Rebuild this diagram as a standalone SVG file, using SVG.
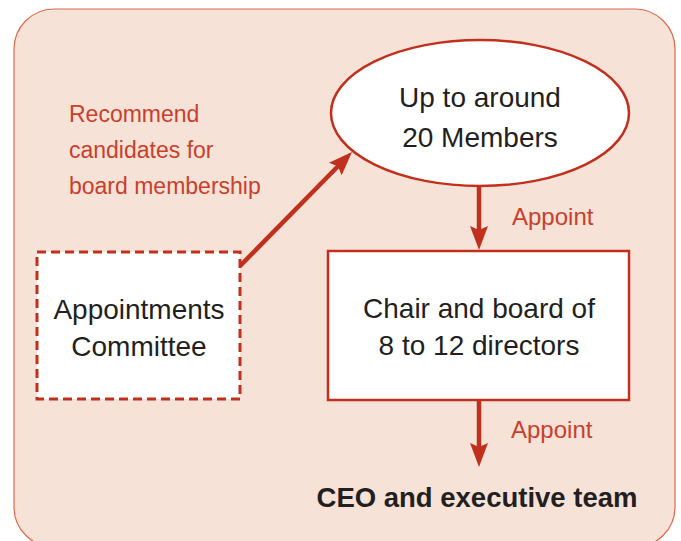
<svg xmlns="http://www.w3.org/2000/svg" width="681" height="541" viewBox="0 0 681 541">
<style>
.node{fill:#ffffff;stroke:#c1301d;stroke-width:2.5}
.dash{stroke-dasharray:9 5;stroke-width:3}
.lbl{font-family:"Liberation Sans",Arial,sans-serif;fill:#231f20;text-anchor:middle}
.red{font-family:"Liberation Sans",Arial,sans-serif;fill:#c8402c}
.conn{stroke:#c1301d;stroke-width:4.5;fill:none}
</style>
<defs>
<marker id="ah" viewBox="0 0 24 18" refX="12" refY="9" markerWidth="24" markerHeight="18" markerUnits="userSpaceOnUse" orient="auto">
<path d="M0,0 L24,9 L0,18 L4,9 z" fill="#c1301d"/>
</marker>
</defs>
<rect x="14" y="9" width="661" height="538" rx="40" ry="40" fill="#f7e2d8" stroke="#dc6a48" stroke-width="1.2"/>
<g id="connectors">
<line class="conn" x1="240" y1="266" x2="343.6" y2="160.5" marker-end="url(#ah)"/>
<line class="conn" x1="479" y1="187" x2="479" y2="238" marker-end="url(#ah)"/>
<line class="conn" x1="479" y1="400" x2="479" y2="455" marker-end="url(#ah)"/>
<text class="red" x="512" y="225" font-size="24">Appoint</text>
<text class="red" x="511" y="438" font-size="24">Appoint</text>
<text class="red" font-size="23"><tspan x="69" y="122">Recommend</tspan><tspan x="69" y="158">candidates for</tspan><tspan x="69" y="194">board membership</tspan></text>
</g>
<g id="members">
<ellipse class="node" cx="480" cy="113" rx="149" ry="73"/>
<text class="lbl" font-size="28"><tspan x="480" y="107">Up to around</tspan><tspan x="480" y="147">20 Members</tspan></text>
</g>
<g id="board">
<rect class="node" x="328" y="251" width="301" height="149"/>
<text class="lbl" font-size="28"><tspan x="479" y="318">Chair and board of</tspan><tspan x="479" y="355">8 to 12 directors</tspan></text>
</g>
<g id="committee">
<rect class="node dash" x="37" y="252" width="203" height="147"/>
<text class="lbl" font-size="28"><tspan x="139" y="319">Appointments</tspan><tspan x="139" y="356">Committee</tspan></text>
</g>
<g id="ceo">
<text class="lbl" font-size="27.5" font-weight="bold" x="477" y="507">CEO and executive team</text>
</g>
</svg>
